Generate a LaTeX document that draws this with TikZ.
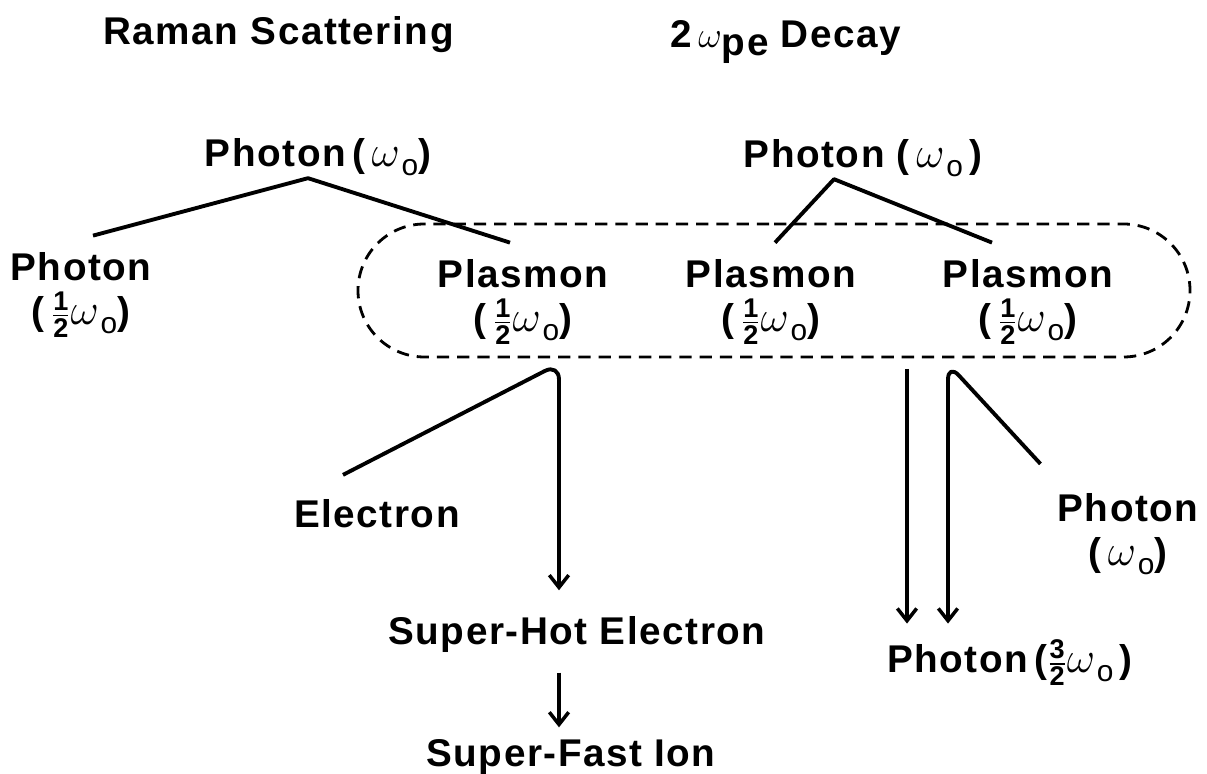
\documentclass[tikz,border=0pt]{standalone}
\usepackage{amsmath}
\usepackage{graphicx}
\usepackage{fontspec}
\setmainfont{Liberation Sans}[LetterSpace=4]
\usetikzlibrary{arrows.meta,positioning,shapes.misc,calc}
\newcommand{\wo}{{\fontsize{29}{29}\selectfont$\omega$}\kern1pt\raisebox{-5pt}{\fontsize{17}{17}\selectfont\mdseries o}}
\newcommand{\half}{$\tfrac{\text{1}}{\text{2}}$}
\newcommand{\threehalf}{$\tfrac{\text{3}}{\text{2}}$}
\tikzset{
  lbl/.style={font=\fontsize{22}{25}\selectfont\bfseries,align=center,inner sep=1pt},
  head/.style={font=\fontsize{22}{26}\selectfont\bfseries,inner sep=0pt},
  link/.style={line width=2.2pt,line join=round},
  arr/.style={link,-{Straight Barb[length=7pt,width=11pt,line width=2pt]}},
  pool/.style={draw,dashed,dash pattern=on 7pt off 4.5pt,line width=1.6pt,rounded rectangle,inner sep=0pt},
}
\begin{document}
\begin{tikzpicture}
  \useasboundingbox (0,0) rectangle (24.14,15.48);
  % headings
  \node[head,anchor=base west] (raman) at (2.06,14.58) {Raman Scattering};
  \node[head,anchor=base west] (decay) at (13.4,14.52) {2\,$\omega$\raisebox{-0.35ex}{pe} Decay};
  % pumps and daughters
  \node[lbl,anchor=base] (ph0L) at (6.36,12.14) {Photon\,(\,\wo)};
  \node[lbl,anchor=base] (ph0R) at (17.26,12.12) {Photon (\,\wo\,)};
  \node[lbl] (phL) at (1.62,9.58) {Photon\\(\,\half\wo)};
  \node[lbl] (pl1) at (10.46,9.44) {Plasmon\\(\,\half\wo)};
  \node[lbl] (pl2) at (15.42,9.44) {Plasmon\\(\,\half\wo)};
  \node[lbl] (pl3) at (20.56,9.44) {Plasmon\\(\,\half\wo)};
  \node[pool,minimum width=16.64cm,minimum height=2.66cm] (pool) at (15.48,9.67) {};
  % products
  \node[lbl,anchor=base] (el) at (7.54,4.92) {Electron};
  \node[lbl,anchor=base] (she) at (11.54,2.58) {Super-Hot Electron};
  \node[lbl,anchor=base] (sfi) at (11.42,0.14) {Super-Fast Ion};
  \node[lbl] (phR) at (22.56,4.8) {Photon\\(\,\wo)};
  \node[lbl,anchor=base] (ph32) at (20.2,2.02) {Photon\,(\threehalf\wo\,)};
  \coordinate (colL) at (11.18,0);
  \coordinate (colA) at (18.14,0);
  \coordinate (colB) at (18.96,0);
  % connectors
  \draw[link] ($(phL.north)+(0.24,0.3)$) -- ([xshift=-0.2cm]ph0L.south) -- ($(pl1.north)+(-0.26,0.3)$);
  \draw[link] ($(pl2.north)+(0.08,0.3)$) -- ([xshift=-0.58cm]ph0R.south) -- ($(pl3.north)+(-0.72,0.3)$);
  \draw[arr,rounded corners=9pt] ($(el.north)+(-0.68,0.46)$) -- ([yshift=-3pt]colL |- pool.south) -- ([yshift=14pt]colL |- she.north);
  \draw[arr] ([yshift=-6pt]colA |- pool.south) -- ([yshift=8pt]colA |- ph32.north);
  \draw[arr,rounded corners=9pt] ($(phR.north west)+(-0.3,0.55)$) -- ([yshift=-3pt]colB |- pool.south) -- ([yshift=8pt]colB |- ph32.north);
  \draw[arr] ([yshift=-10pt]colL |- she.south) -- ([yshift=6pt]colL |- sfi.north);
\end{tikzpicture}
\end{document}
